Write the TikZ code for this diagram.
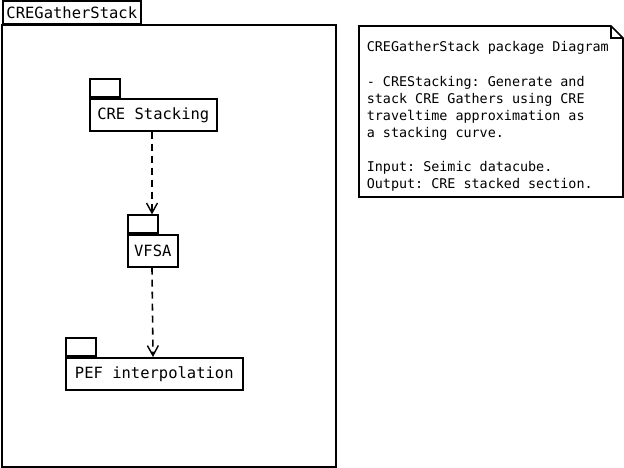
\documentclass[tikz,border=0pt]{standalone}
\usepackage{fontspec}
\setmonofont{DejaVu Sans Mono}
\usetikzlibrary{arrows.meta}
\begin{document}
\begin{tikzpicture}[x=1pt,y=-1pt,line width=1.6pt,
  pkg/.style={draw, rectangle, minimum height=32pt, inner sep=0pt, anchor=north west, font=\fontsize{15.5}{17}\selectfont\ttfamily},
  tab/.style={draw, rectangle, minimum width=30pt, minimum height=18pt, inner sep=0pt, anchor=south west},
  dep/.style={dash pattern=on 7pt off 5pt, -{Straight Barb[length=10pt,width=11pt,line width=1.4pt]}},
  notetext/.style={anchor=north west, inner sep=0pt, align=left, font=\fontsize{13.4}{17.1}\selectfont\ttfamily}]
\useasboundingbox (0,0) rectangle (624,468);
% outer package
\draw (2,25) rectangle (336,467);
\node[draw, rectangle, anchor=south west, minimum width=138pt, minimum height=23pt, inner sep=0pt, font=\fontsize{15.5}{17}\selectfont\ttfamily] (outer) at (2,25) {CREGatherStack};
% packages
\node[pkg, minimum width=127pt] (cre) at (89,98) {CRE Stacking};
\node[tab] (creTab) at (cre.north west) {};
\node[pkg, minimum width=50pt] (vfsa) at (127,234) {VFSA};
\node[tab] (vfsaTab) at (vfsa.north west) {};
\node[pkg, minimum width=177pt] (pef) at (65,357) {PEF interpolation};
\node[tab] (pefTab) at (pef.north west) {};
% dependencies
\coordinate (creOut) at (152,130);
\coordinate (vfsaOut) at (152,266);
\coordinate (pefIn) at (153,357);
\draw[dep] (cre.south -| creOut) -- (vfsaTab.north -| creOut);
\draw[dep] (vfsa.south -| vfsaOut) -- (pef.north -| pefIn);
% note
\draw (359,26) -- (611,26) -- (623,38) -- (623,197) -- (359,197) -- cycle;
\draw (611,26) -- (611,38) -- (623,38);
\node[notetext] (note) at (366,41) {CREGatherStack package Diagram\\[17.1pt]
- CREStacking: Generate and\\
stack CRE Gathers using CRE\\
traveltime approximation as\\
a stacking curve.\\[17.1pt]
Input: Seimic datacube.\\
Output: CRE stacked section.};
\end{tikzpicture}
\end{document}
